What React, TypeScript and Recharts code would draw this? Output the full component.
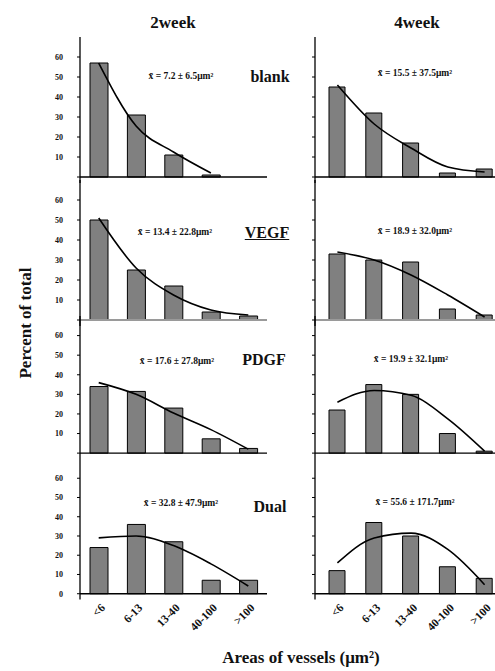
import React from "react";
import { ComposedChart, Bar, Line, XAxis, YAxis, ReferenceLine } from "recharts";

const categories = ["<6", "6-13", "13-40", "40-100", ">100"];
const yTicks = [0, 10, 20, 30, 40, 50, 60];

const blank2 = [57, 31, 11, 1, 0];
const blank2Fit = [57, 25.5, 12.5, 2, null];
const blank4 = [45, 32, 17, 2, 4];
const blank4Fit = [46, 26.5, 14.5, 5, 2.5];
const vegf2 = [50, 25, 17, 4, 2];
const vegf2Fit = [51, 26, 12.5, 5, 2.5];
const vegf4 = [33, 30, 29, 5.5, 2.5];
const vegf4Fit = [34, 30, 22.5, 12.5, 1.5];
const pdgf2 = [34, 31.5, 23, 7.3, 2.4];
const pdgf2Fit = [36, 30, 20.5, 12, 2];
const pdgf4 = [22, 35, 30, 10, 1];
const pdgf4Fit = [26, 32, 29.5, 17.5, 1];
const dual2 = [24, 36, 27, 7, 7];
const dual2Fit = [29, 30, 25, 15.5, 4];
const dual4 = [12, 37, 30, 14, 8];
const dual4Fit = [16, 29, 31.5, 23, 4.7];

const columnTitles = ["2week", "4week"];
const groupLabels = ["blank", "VEGF", "PDGF", "Dual"];
const means2 = ["7.2 ± 6.5", "13.4 ± 22.8", "17.6 ± 27.8", "32.8 ± 47.9"];
const means4 = ["15.5 ± 37.5", "18.9 ± 32.0", "19.9 ± 32.1", "55.6 ± 171.7"];

const FONT = "'Liberation Serif', 'DejaVu Serif', 'Times New Roman', serif";

function XTick(props: any) {
  const { x, y, payload } = props;
  return (
    <g transform={`translate(${x + 7}, ${y - 1})`}>
      <text
        x={0}
        y={0}
        transform="rotate(-45)"
        textAnchor="end"
        fontSize={11.5}
        fontWeight="bold"
        fontFamily={FONT}
        fill="#111"
      >
        {payload.value}
      </text>
    </g>
  );
}

type PanelProps = {
  bars: number[];
  fit: (number | null)[];
  left: number;
  top: number;
  plotH: number;
  xH: number;
  showYLabels: boolean;
  showZero: boolean;
  showXLabels: boolean;
  isRight: boolean;
  zeroColor: string;
  zeroWidth: number;
  barSize: number;
};

function Panel(p: PanelProps) {
  const data = categories.map((c, i) => ({ cat: c, pct: p.bars[i], fit: p.fit[i] }));
  const width = p.isRight ? 248 : 247;
  return (
    <div style={{ position: "absolute", left: p.left, top: p.top }}>
      <ComposedChart
        width={width}
        height={p.plotH + p.xH}
        data={data}
        margin={{ top: 0, right: 0, bottom: 0, left: 0 }}
      >
        <XAxis
          dataKey="cat"
          type="category"
          height={p.xH}
          axisLine={false}
          tickLine={false}
          interval={0}
          tickMargin={4}
          padding={p.isRight ? { left: 4, right: 0 } : { left: 0, right: 0 }}
          tick={p.showXLabels ? (props: any) => <XTick {...props} /> : false}
        />
        <YAxis
          width={60}
          type="number"
          domain={[-3, 70]}
          allowDataOverflow
          ticks={yTicks}
          interval={0}
          tickSize={3}
          tickMargin={14}
          axisLine={{ stroke: "#000", strokeWidth: 1.3 }}
          tickLine={{ stroke: "#000" }}
          tick={{ fontSize: 8, fontWeight: "bold", fill: "#111", fontFamily: FONT }}
          tickFormatter={(v: number) =>
            !p.showYLabels ? "" : v === 0 && !p.showZero ? "" : String(v)
          }
        />
        <ReferenceLine y={0} stroke={p.zeroColor} strokeWidth={p.zeroWidth} />
        <Bar
          dataKey="pct"
          fill="#808080"
          stroke="#000"
          strokeWidth={1}
          barSize={p.barSize}
          isAnimationActive={false}
        />
        <Line
          dataKey="fit"
          type="monotone"
          stroke="#000"
          strokeWidth={1.6}
          dot={false}
          activeDot={false}
          connectNulls={false}
          isAnimationActive={false}
        />
      </ComposedChart>
    </div>
  );
}

function T(props: {
  x: number;
  y: number;
  size: number;
  bold?: boolean;
  underline?: boolean;
  rotate?: boolean;
  children: React.ReactNode;
}) {
  return (
    <div
      style={{
        position: "absolute",
        left: props.x,
        top: props.y,
        transform: `translate(-50%, -50%)${props.rotate ? " rotate(-90deg)" : ""}`,
        fontSize: props.size,
        fontWeight: props.bold ? "bold" : "normal",
        textDecoration: props.underline ? "underline" : "none",
        whiteSpace: "nowrap",
        lineHeight: 1,
        color: "#111",
        fontFamily: FONT,
      }}
    >
      {props.children}
    </div>
  );
}

const rows = [
  { top: 37, plotH: 146, xH: 1, l: blank2, lf: blank2Fit, r: blank4, rf: blank4Fit, zc: "#000", zw: 1.3 },
  { top: 180, plotH: 146, xH: 1, l: vegf2, lf: vegf2Fit, r: vegf4, rf: vegf4Fit, zc: "#9a9a9a", zw: 2 },
  { top: 316, plotH: 143, xH: 1, l: pdgf2, lf: pdgf2Fit, r: pdgf4, rf: pdgf4Fit, zc: "#000", zw: 1.3 },
  { top: 459, plotH: 140.5, xH: 50, l: dual2, lf: dual2Fit, r: dual4, rf: dual4Fit, zc: "#000", zw: 1.3 },
];

const labelPos = [
  { label: [270, 77], ml: [181, 77], mr: [415, 74] },
  { label: [267, 233], ml: [175, 233], mr: [415, 232] },
  { label: [264, 360], ml: [177, 362], mr: [411, 360] },
  { label: [270, 507], ml: [181, 504], mr: [415, 503] },
];

export default function App() {
  return (
    <div
      style={{
        position: "fixed",
        left: 0,
        top: 0,
        width: 495,
        height: 671,
        overflow: "hidden",
        background: "#fff",
        fontFamily: FONT,
      }}
    >
      {rows.map((r, i) => (
        <React.Fragment key={i}>
          <Panel
            bars={r.l}
            fit={r.lf}
            left={20}
            top={r.top}
            plotH={r.plotH}
            xH={r.xH}
            showYLabels={true}
            showZero={i === 3}
            showXLabels={i === 3}
            isRight={false}
            zeroColor={r.zc}
            zeroWidth={r.zw}
            barSize={18}
          />
          <Panel
            bars={r.r}
            fit={r.rf}
            left={255}
            top={r.top}
            plotH={r.plotH}
            xH={r.xH}
            showYLabels={false}
            showZero={false}
            showXLabels={i === 3}
            isRight={true}
            zeroColor={r.zc}
            zeroWidth={r.zw}
            barSize={16}
          />
        </React.Fragment>
      ))}

      <T x={173} y={22} size={17} bold>{columnTitles[0]}</T>
      <T x={417} y={22} size={17} bold>{columnTitles[1]}</T>

      {groupLabels.map((g, i) => (
        <T key={g} x={labelPos[i].label[0]} y={labelPos[i].label[1]} size={16} bold underline={g === "VEGF"}>
          {g}
        </T>
      ))}
      {means2.map((m, i) => (
        <T key={"l" + i} x={labelPos[i].ml[0]} y={labelPos[i].ml[1]} size={9.5} bold>
          {"x\u0304 = " + m + "\u03bcm\u00b2"}
        </T>
      ))}
      {means4.map((m, i) => (
        <T key={"r" + i} x={labelPos[i].mr[0]} y={labelPos[i].mr[1]} size={9.5} bold>
          {"x\u0304 = " + m + "\u03bcm\u00b2"}
        </T>
      ))}

      <T x={25} y={323} size={17} bold rotate>Percent of total</T>
      <T x={301} y={657} size={17} bold>
        Areas of vessels (μm²)
      </T>
    </div>
  );
}
